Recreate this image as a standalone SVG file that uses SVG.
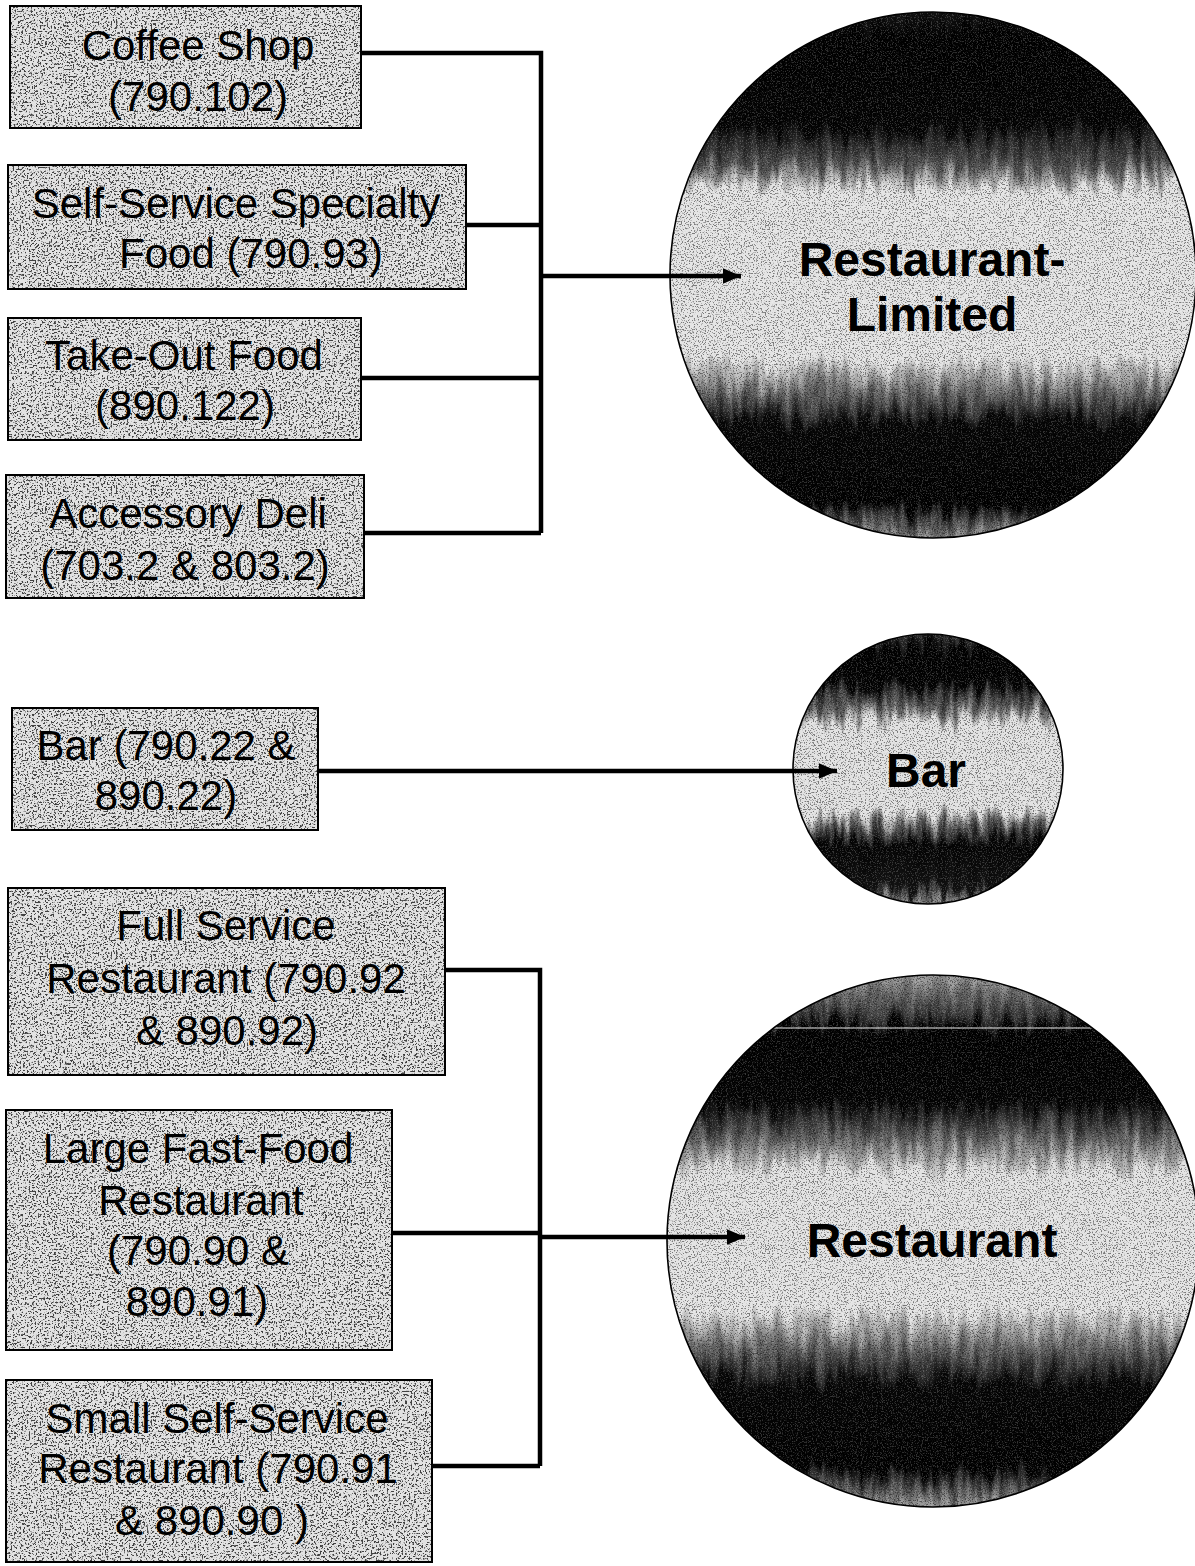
<svg xmlns="http://www.w3.org/2000/svg" width="1195" height="1566" viewBox="0 0 1195 1566">
<style>
.bg{fill:#e2e2e2}
.spk{filter:url(#bx);opacity:0.8}
.frame{fill:none;stroke:#000;stroke-width:2}
.bt{font-family:"Liberation Sans",Arial,sans-serif;font-size:42px;fill:#000;text-anchor:middle}
.ct{font-family:"Liberation Sans",Arial,sans-serif;font-size:48px;font-weight:bold;fill:#000;text-anchor:middle}
.ring{fill:none;stroke:#000;stroke-width:1.6}
.band{filter:url(#rag)}
.wsp{filter:url(#wt);opacity:0.18}
.csp{filter:url(#dk);opacity:0.5}
.wire{fill:none;stroke:#000;stroke-width:4.5}
</style>
<defs>
<filter id="bx" x="0" y="0" width="1" height="1" color-interpolation-filters="sRGB">
<feTurbulence type="fractalNoise" baseFrequency="0.55" numOctaves="3" seed="11"/>
<feColorMatrix type="matrix" values="0 0 0 0 0.1 0 0 0 0 0.1 0 0 0 0 0.1 -9 0 0 0 4.1"/>
</filter>
<filter id="dk" x="0" y="0" width="1" height="1" color-interpolation-filters="sRGB">
<feTurbulence type="fractalNoise" baseFrequency="0.75" numOctaves="2" seed="7"/>
<feColorMatrix type="matrix" values="0 0 0 0 0.08 0 0 0 0 0.08 0 0 0 0 0.08 -9 0 0 0 4.1"/>
</filter>
<filter id="wt" x="0" y="0" width="1" height="1" color-interpolation-filters="sRGB">
<feTurbulence type="fractalNoise" baseFrequency="0.8" numOctaves="2" seed="19"/>
<feColorMatrix type="matrix" values="0 0 0 0 1 0 0 0 0 1 0 0 0 0 1 9 0 0 0 -4.9"/>
</filter>
<filter id="rag" x="0" y="0" width="1" height="1" color-interpolation-filters="sRGB">
<feTurbulence type="fractalNoise" baseFrequency="0.12 0.02" numOctaves="3" seed="4" result="t"/>
<feDisplacementMap in="SourceGraphic" in2="t" scale="44" xChannelSelector="R" yChannelSelector="G"/>
</filter>
<linearGradient id="g1" gradientUnits="userSpaceOnUse" x1="0" y1="12" x2="0" y2="538">
<stop offset="0" stop-color="#111"/>
<stop offset="0.05" stop-color="#000"/>
<stop offset="0.22" stop-color="#030303"/>
<stop offset="0.29" stop-color="#555"/>
<stop offset="0.34" stop-color="#e4e4e4"/>
<stop offset="0.66" stop-color="#e4e4e4"/>
<stop offset="0.72" stop-color="#707070"/>
<stop offset="0.78" stop-color="#050505"/>
<stop offset="0.94" stop-color="#000"/>
<stop offset="1" stop-color="#8a8a8a"/>
</linearGradient>
<linearGradient id="g2" gradientUnits="userSpaceOnUse" x1="0" y1="634" x2="0" y2="904">
<stop offset="0" stop-color="#333"/>
<stop offset="0.06" stop-color="#000"/>
<stop offset="0.19" stop-color="#030303"/>
<stop offset="0.27" stop-color="#666"/>
<stop offset="0.33" stop-color="#e2e2e2"/>
<stop offset="0.66" stop-color="#e2e2e2"/>
<stop offset="0.72" stop-color="#555"/>
<stop offset="0.78" stop-color="#030303"/>
<stop offset="0.94" stop-color="#111"/>
<stop offset="1" stop-color="#888"/>
</linearGradient>
<linearGradient id="g3" gradientUnits="userSpaceOnUse" x1="0" y1="975" x2="0" y2="1507">
<stop offset="0" stop-color="#9a9a9a"/>
<stop offset="0.07" stop-color="#3a3a3a"/>
<stop offset="0.10" stop-color="#000"/>
<stop offset="0.24" stop-color="#030303"/>
<stop offset="0.31" stop-color="#666"/>
<stop offset="0.37" stop-color="#e2e2e2"/>
<stop offset="0.63" stop-color="#e4e4e4"/>
<stop offset="0.70" stop-color="#666"/>
<stop offset="0.77" stop-color="#050505"/>
<stop offset="0.93" stop-color="#000"/>
<stop offset="1" stop-color="#999"/>
</linearGradient>
<clipPath id="c1"><circle cx="933" cy="275" r="263"/></clipPath>
<clipPath id="c2"><circle cx="928" cy="769" r="135"/></clipPath>
<clipPath id="c3"><circle cx="933" cy="1241" r="266"/></clipPath>
<marker id="ah" viewBox="0 0 10 10" refX="10" refY="5" markerWidth="4" markerHeight="3.4" markerUnits="strokeWidth" orient="auto" preserveAspectRatio="none">
<path d="M0,0 L10,5 L0,10 z" fill="#000"/>
</marker>
</defs>
<rect width="1195" height="1566" fill="#fff"/>

<g id="coffee-shop">
<rect class="bg" x="10" y="6" width="351" height="122"/>
<rect class="spk" x="10" y="6" width="351" height="122"/>
<rect class="frame" x="10" y="6" width="351" height="122"/>
<text class="bt" x="198" y="60">Coffee Shop</text>
<text class="bt" x="198" y="111">(790.102)</text>
</g>

<g id="self-service-specialty">
<rect class="bg" x="8" y="165" width="458" height="124"/>
<rect class="spk" x="8" y="165" width="458" height="124"/>
<rect class="frame" x="8" y="165" width="458" height="124"/>
<text class="bt" x="236" y="218">Self-Service Specialty</text>
<text class="bt" x="251" y="268">Food (790.93)</text>
</g>

<g id="take-out-food">
<rect class="bg" x="8" y="318" width="353" height="122"/>
<rect class="spk" x="8" y="318" width="353" height="122"/>
<rect class="frame" x="8" y="318" width="353" height="122"/>
<text class="bt" x="184" y="370">Take-Out Food</text>
<text class="bt" x="185" y="420">(890.122)</text>
</g>

<g id="accessory-deli">
<rect class="bg" x="6" y="475" width="358" height="123"/>
<rect class="spk" x="6" y="475" width="358" height="123"/>
<rect class="frame" x="6" y="475" width="358" height="123"/>
<text class="bt" x="188" y="528">Accessory Deli</text>
<text class="bt" x="185" y="580">(703.2 &amp; 803.2)</text>
</g>

<g id="restaurant-limited">
<g clip-path="url(#c1)">
<rect class="band" x="640" y="-20" width="590" height="590" fill="url(#g1)"/>
<rect class="csp" x="670" y="12" width="526" height="526"/>
<rect class="wsp" x="670" y="12" width="526" height="526"/>
</g>
<circle class="ring" cx="933" cy="275" r="263"/>
<text class="ct" x="932" y="276">Restaurant-</text>
<text class="ct" x="932" y="331">Limited</text>
</g>

<g id="bar-box">
<rect class="bg" x="12" y="708" width="306" height="122"/>
<rect class="spk" x="12" y="708" width="306" height="122"/>
<rect class="frame" x="12" y="708" width="306" height="122"/>
<text class="bt" x="166" y="760">Bar (790.22 &amp;</text>
<text class="bt" x="166" y="810">890.22)</text>
</g>

<g id="bar">
<g clip-path="url(#c2)">
<rect class="band" x="770" y="610" width="320" height="320" fill="url(#g2)"/>
<rect class="csp" x="793" y="634" width="270" height="270"/>
<rect class="wsp" x="793" y="634" width="270" height="270"/>
</g>
<circle class="ring" cx="928" cy="769" r="135"/>
<text class="ct" x="926" y="787">Bar</text>
</g>

<g id="full-service">
<rect class="bg" x="8" y="888" width="437" height="187"/>
<rect class="spk" x="8" y="888" width="437" height="187"/>
<rect class="frame" x="8" y="888" width="437" height="187"/>
<text class="bt" x="226" y="940">Full Service</text>
<text class="bt" x="226" y="993">Restaurant (790.92</text>
<text class="bt" x="227" y="1045">&amp; 890.92)</text>
</g>

<g id="large-fast-food">
<rect class="bg" x="6" y="1110" width="386" height="240"/>
<rect class="spk" x="6" y="1110" width="386" height="240"/>
<rect class="frame" x="6" y="1110" width="386" height="240"/>
<text class="bt" x="198" y="1163">Large Fast-Food</text>
<text class="bt" x="201" y="1215">Restaurant</text>
<text class="bt" x="198" y="1265">(790.90 &amp;</text>
<text class="bt" x="197" y="1316">890.91)</text>
</g>

<g id="small-self-service">
<rect class="bg" x="6" y="1380" width="426" height="182"/>
<rect class="spk" x="6" y="1380" width="426" height="182"/>
<rect class="frame" x="6" y="1380" width="426" height="182"/>
<text class="bt" x="217" y="1433">Small Self-Service</text>
<text class="bt" x="218" y="1483">Restaurant (790.91</text>
<text class="bt" x="212" y="1535">&amp; 890.90 )</text>
</g>

<g id="restaurant">
<g clip-path="url(#c3)">
<rect class="band" x="640" y="945" width="590" height="590" fill="url(#g3)"/>
<rect class="csp" x="667" y="975" width="532" height="532"/>
<rect class="wsp" x="667" y="975" width="532" height="532"/>
<line x1="770" y1="1028" x2="1100" y2="1028" stroke="#e8e8e8" stroke-width="1.2"/>
</g>
<circle class="ring" cx="933" cy="1241" r="266"/>
<text class="ct" x="932" y="1257">Restaurant</text>
</g>

<g id="connectors">
<path class="wire" d="M361,53 H541 V533 M466,225 H541 M361,378 H541 M364,533 H541"/>
<path class="wire" d="M541,276 H741" marker-end="url(#ah)"/>
<path class="wire" d="M318,771 H837" marker-end="url(#ah)"/>
<path class="wire" d="M445,970 H540 V1466 M392,1233 H540 M432,1466 H540"/>
<path class="wire" d="M540,1237 H745" marker-end="url(#ah)"/>
</g>
</svg>
